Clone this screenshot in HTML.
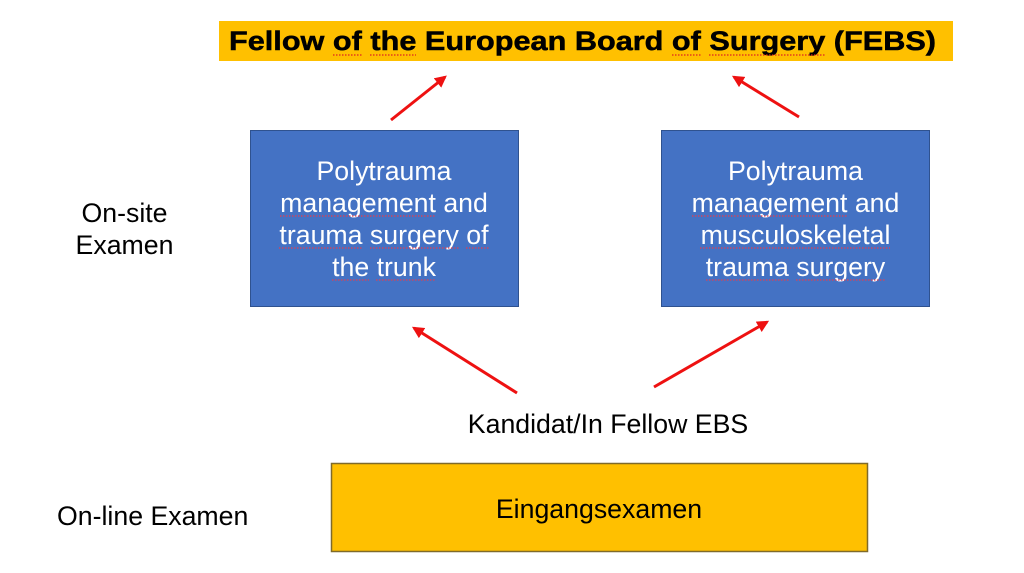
<!DOCTYPE html>
<html>
<head>
<meta charset="utf-8">
<style>
  html,body{margin:0;padding:0;background:#fff;}
  svg{display:block;}
  text{font-family:"Liberation Sans", Arial, sans-serif;}
</style>
</head>
<body>
<svg width="1024" height="573" viewBox="0 0 1024 573" xmlns="http://www.w3.org/2000/svg">
  <defs>
    <marker id="ah" viewBox="0 0 10 10" refX="8" refY="5" markerWidth="4" markerHeight="4" orient="auto" markerUnits="strokeWidth">
      <path d="M0,0 L10,5 L0,10 z" fill="#ee1111"/>
    </marker>
  </defs>
  <rect width="1024" height="573" fill="#fff"/>

  <!-- Title banner -->
  <rect x="219" y="21" width="734" height="40" fill="#FFC000"/>
  <text x="229" y="50" font-size="27" font-weight="bold" fill="#000" stroke="#000" stroke-width="0.5" textLength="707" lengthAdjust="spacingAndGlyphs">Fellow of the European Board of Surgery (FEBS)</text>
  <g stroke="#d22" stroke-width="1.2" stroke-dasharray="1.5,1.5" fill="none">
    <line x1="333" y1="55" x2="362" y2="55"/>
    <line x1="370" y1="55" x2="416" y2="55"/>
    <line x1="672" y1="55" x2="701" y2="55"/>
    <line x1="709" y1="55" x2="825" y2="55"/>
  </g>

  <!-- Top arrows -->
  <line x1="391" y1="120" x2="445" y2="77" stroke="#ee1111" stroke-width="3" marker-end="url(#ah)"/>
  <line x1="799" y1="117" x2="734" y2="77" stroke="#ee1111" stroke-width="3" marker-end="url(#ah)"/>

  <!-- Left blue box -->
  <rect x="250.5" y="130.5" width="268" height="176" fill="#4472C4" stroke="#2F528F" stroke-width="1"/>
  <g font-size="26.7" fill="#fff" text-anchor="middle">
    <text x="384" y="180">Polytrauma</text>
    <text x="384" y="212">management and</text>
    <text x="384" y="244">trauma surgery of</text>
    <text x="384" y="276">the trunk</text>
  </g>
  <g stroke="#e04050" stroke-width="1.2" stroke-dasharray="1.5,1.5" fill="none">
    <line x1="280" y1="216" x2="436" y2="216"/>
    <line x1="279" y1="248" x2="362" y2="248"/>
    <line x1="370" y1="248" x2="459" y2="248"/>
    <line x1="466" y1="248" x2="489" y2="248"/>
    <line x1="332" y1="280" x2="369" y2="280"/>
    <line x1="376" y1="280" x2="436" y2="280"/>
  </g>

  <!-- Right blue box -->
  <rect x="661.5" y="130.5" width="268" height="176" fill="#4472C4" stroke="#2F528F" stroke-width="1"/>
  <g font-size="26.7" fill="#fff" text-anchor="middle">
    <text x="795.5" y="180">Polytrauma</text>
    <text x="795.5" y="212">management and</text>
    <text x="795.5" y="244">musculoskeletal</text>
    <text x="795.5" y="276">trauma surgery</text>
  </g>
  <g stroke="#e04050" stroke-width="1.2" stroke-dasharray="1.5,1.5" fill="none">
    <line x1="692" y1="216" x2="847" y2="216"/>
    <line x1="700" y1="248" x2="890" y2="248"/>
    <line x1="706" y1="280" x2="789" y2="280"/>
    <line x1="796" y1="280" x2="885" y2="280"/>
  </g>

  <!-- Bottom arrows -->
  <line x1="517" y1="393" x2="414" y2="328" stroke="#ee1111" stroke-width="3" marker-end="url(#ah)"/>
  <line x1="654" y1="387" x2="767" y2="322" stroke="#ee1111" stroke-width="3" marker-end="url(#ah)"/>

  <!-- Labels -->
  <text x="608" y="433" font-size="26.7" fill="#000" text-anchor="middle">Kandidat/In Fellow EBS</text>
  <text x="124.5" y="222" font-size="26.7" fill="#000" text-anchor="middle">On-site</text>
  <text x="124.5" y="254" font-size="26.7" fill="#000" text-anchor="middle">Examen</text>
  <text x="57" y="525" font-size="26.7" fill="#000">On-line Examen</text>

  <!-- Bottom yellow box -->
  <rect x="331.5" y="463.5" width="536" height="88" fill="#FFC000" stroke="#7F6A2A" stroke-width="1.5"/>
  <text x="599" y="518" font-size="26.7" fill="#000" text-anchor="middle">Eingangsexamen</text>
</svg>
</body>
</html>
